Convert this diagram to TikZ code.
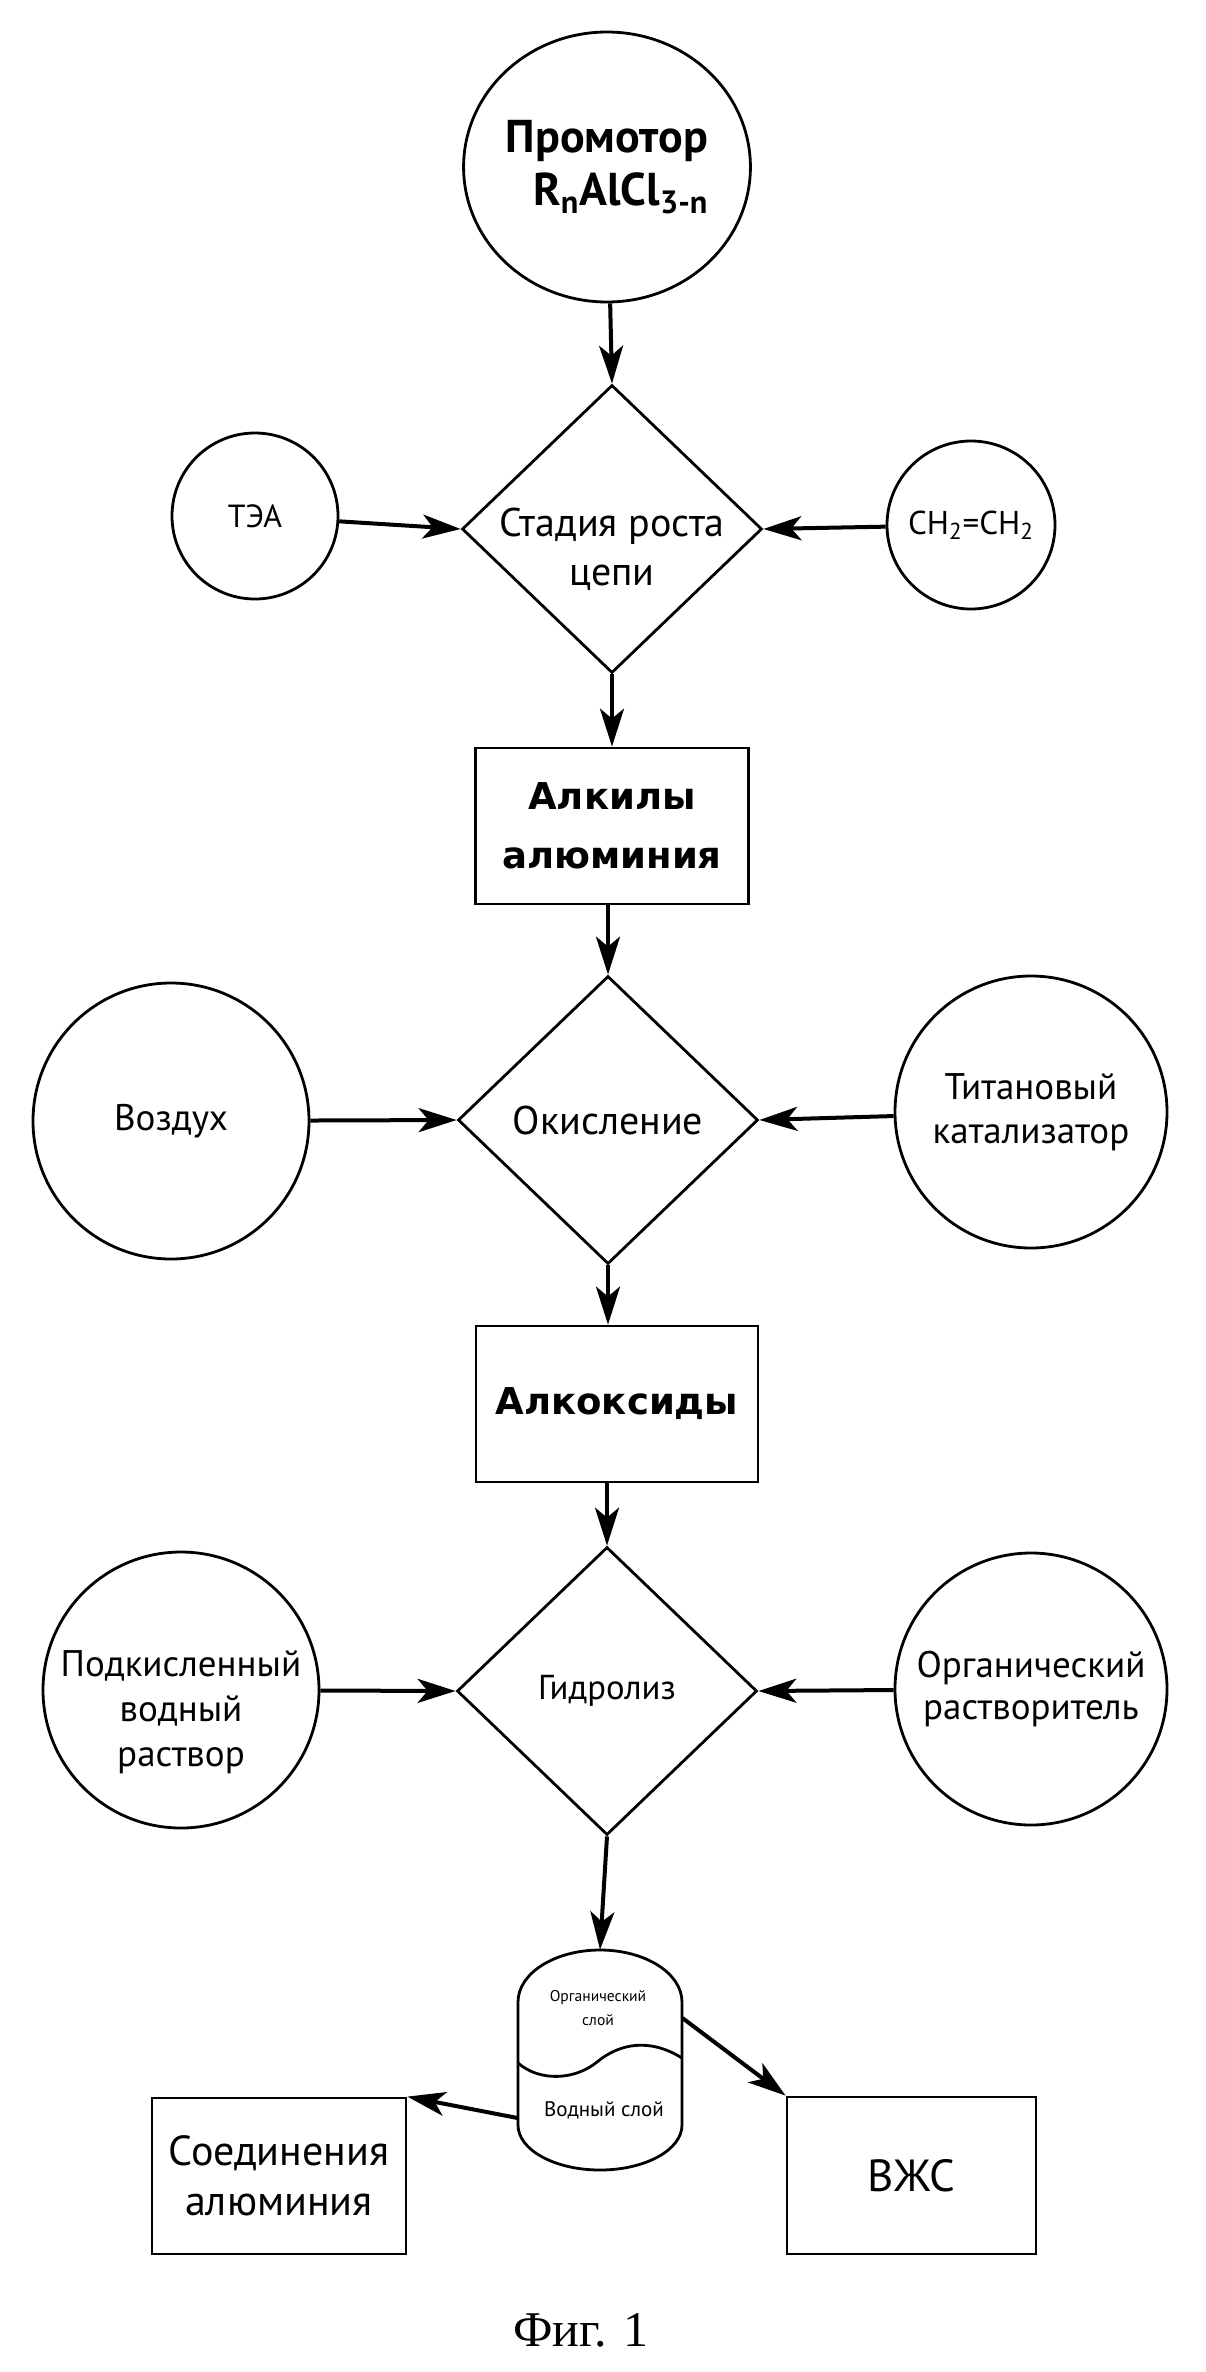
\documentclass[tikz,border=0pt]{standalone}
\usepackage{fontspec}
\setmainfont{PT Sans}
\newfontfamily\dejavu{DejaVu Sans}
\newfontfamily\capfont{Liberation Serif}
\usetikzlibrary{shapes.geometric,arrows.meta}
\begin{document}
\begin{tikzpicture}[x=0.5pt,y=-0.5pt,
  shp/.style={draw,line width=1.4pt,inner sep=0pt,align=center},
  circ/.style={shp,circle},
  dia/.style={shp,diamond,minimum width=150pt,minimum height=144pt},
  box/.style={shp,rectangle},
  arr/.style={line width=2pt,-{Stealth[length=19pt,width=12pt,inset=5pt]}},
  txt/.style={font=\fontsize{18.5}{22}\selectfont,align=center},
  dtxt/.style={font=\fontsize{20}{24.5}\selectfont,align=center},
  btxt/.style={font=\dejavu\bfseries\fontsize{18.5}{29.5}\selectfont}]
\useasboundingbox (0,0) rectangle (1205,2372);
% top promoter
\node[shp,ellipse,minimum width=142.5pt,minimum height=135pt,font=\bfseries\fontsize{23}{26.5}\selectfont] (prom) at (607,167) {Промотор\\\hspace*{0.6em}R\textsubscript{n}AlCl\textsubscript{3-n}};
% stage 1
\node[dia,label={[dtxt,yshift=-10pt]center:Стадия роста\\цепи}] (d1) at (612,529) {};
\node[circ,minimum size=83pt,font=\fontsize{16}{20}\selectfont] (tea) at (255,516) {ТЭА};
\node[circ,minimum size=84pt,font=\fontsize{16.5}{20}\selectfont] (eth) at (971,525) {CH\textsubscript{2}=CH\textsubscript{2}};
\node[box,minimum width=136.5pt,minimum height=78pt,btxt] (alk) at (612,826) {Алкилы\\алюминия};
% stage 2
\node[dia,label={[dtxt]center:Окисление}] (d2) at (608,1120) {};
\node[circ,minimum size=138pt,txt] (air) at (171,1121) {Воздух};
\node[circ,minimum size=136pt,txt] (ti) at (1031,1112) {Титановый\\катализатор};
\node[box,minimum width=141pt,minimum height=78pt,btxt] (alko) at (617,1404) {Алкоксиды};
% stage 3
\node[dia,label={[font=\fontsize{17.3}{20}\selectfont]center:Гидролиз}] (d3) at (607,1691) {};
\node[circ,minimum size=138pt,label={[txt,font=\fontsize{18.5}{22.5}\selectfont,yshift=-11pt]center:Подкисленный\\водный\\раствор}] (acid) at (181,1690) {};
\node[circ,minimum size=136pt,txt,font=\fontsize{18.5}{21}\selectfont] (solv) at (1031,1689) {Органический\\растворитель};
% separator capsule
\node[minimum width=82pt,minimum height=110pt,inner sep=0pt] (caps) at (600,2060) {};
\draw[line width=1.4pt] (518,2002) arc[start angle=180,end angle=360,x radius=82,y radius=52]
  -- (682,2125) arc[start angle=0,end angle=180,x radius=82,y radius=45] -- cycle;
\draw[line width=1.4pt] (518,2063) .. controls (540,2082) and (575,2080) .. (597,2062)
  .. controls (620,2043) and (650,2038) .. (682,2058);
\node[font=\fontsize{7.8}{12}\selectfont,align=center] (orgl) at (598,2008) {Органический\\слой};
\node[font=\fontsize{10.5}{12}\selectfont] (vodl) at (604,2110) {Водный слой};
\node[box,minimum width=127pt,minimum height=78pt,font=\fontsize{21}{25}\selectfont] (alc) at (279,2176) {Соединения\\алюминия};
\node[box,minimum width=124.5pt,minimum height=78.5pt,font=\fontsize{22.5}{26}\selectfont] (hfa) at (911.5,2175.5) {ВЖС};
\node[font=\capfont\fontsize{25}{30}\selectfont] (cap) at (581,2330) {Фиг. 1};
% connectors
\draw[arr] (prom) -- (d1.north);
\draw[arr] (tea) -- (d1.west);
\draw[arr] (eth) -- (d1.east);
\draw[arr] (d1.south) -- (alk.north);
\draw[arr] (alk.south -| d2.north) -- (d2.north);
\draw[arr] (air) -- (d2.west);
\draw[arr] (ti) -- (d2.east);
\draw[arr] (d2.south) -- (d2.south |- alko.north);
\draw[arr] (alko.south -| d3.north) -- (d3.north);
\draw[arr] (acid) -- (d3.west);
\draw[arr] (solv) -- (d3.east);
\draw[arr] (d3.south) -- (caps.north);
\draw[arr] ([yshift=-29pt]caps.west) -- (alc.north east);
\draw[arr] ([yshift=21pt]caps.east) -- (hfa.north west);
\end{tikzpicture}
\end{document}
